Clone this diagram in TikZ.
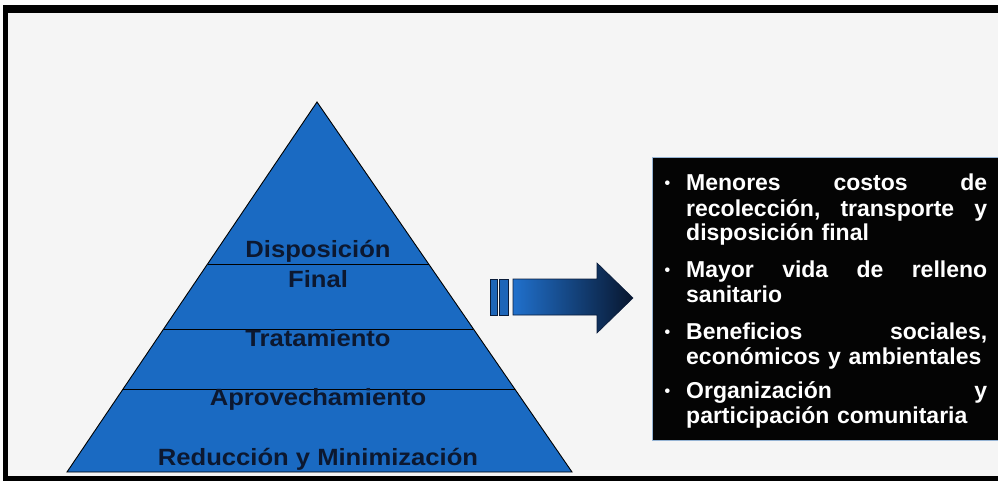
\documentclass[tikz,border=0pt]{standalone}
\usepackage{fontspec}
\setmainfont{Liberation Sans}
\newfontfamily\pyrfont[FakeStretch=1.09]{Liberation Sans}
\usetikzlibrary{calc}
\definecolor{pyrblue}{RGB}{26,106,194}
\definecolor{pyrtext}{RGB}{12,24,48}
\definecolor{bggray}{RGB}{245,245,245}
\definecolor{topwhite}{RGB}{252,252,252}
\definecolor{arrowleft}{RGB}{32,112,204}
\definecolor{arrowright}{RGB}{8,22,46}
\definecolor{arrowedge}{RGB}{10,28,58}
\definecolor{boxblack}{RGB}{4,4,4}
\definecolor{boxedge}{RGB}{150,180,212}
\newcommand\jline[1]{\leavevmode\hbox to 301pt{#1}}
\newcommand\bul{\leavevmode\llap{\raisebox{2pt}{\fontsize{16}{16}\selectfont •}\hspace{16pt}}}
\tikzset{
  pyrlabel/.style={text=pyrtext, font=\pyrfont\bfseries\fontsize{23.5}{29}\selectfont, inner sep=0pt, align=center},
  itemtext/.style={text=white, font=\bfseries\fontsize{23}{25}\selectfont, align=left, text width=301pt, inner sep=0pt},
  barstyle/.style={fill=arrowleft!90!black, draw=arrowedge, line width=0.6pt},
  blockarrow/.style={left color=arrowleft, right color=arrowright, draw=arrowedge, line width=0.6pt, line join=miter}
}
\begin{document}
\begin{tikzpicture}[x=1pt,y=-1pt]
\useasboundingbox (0,0) rectangle (998,481);
% background and frame
\fill[topwhite] (0,0) rectangle (998,481);
\fill[black] (3,5) rectangle (998,481);
\fill[bggray] (8,13) rectangle (998,476);
% pyramid
\coordinate (apex) at (317,102);
\coordinate (bl) at (67,472);
\coordinate (br) at (572,472);
\filldraw[fill=pyrblue, draw=black, line width=0.9pt, line join=miter] (apex) -- (bl) -- (br) -- cycle;
\foreach \t in {0.4378,0.6135,0.7757}{
  \draw[black, line width=0.9pt] ($(apex)!\t!(bl)$) -- ($(apex)!\t!(br)$);
}
\node[pyrlabel, anchor=base] (disp) at (318,257) {Disposición};
\node[pyrlabel, anchor=base] (final) at (318,287) {Final};
\node[pyrlabel, anchor=base] (trat) at (318,346) {Tratamiento};
\node[pyrlabel, anchor=base] (aprov) at (318,405) {Aprovechamiento};
\node[pyrlabel, anchor=base] (redu) at (318,465) {Reducción y Minimización};
% block arrow
\filldraw[barstyle] (490,279) rectangle (497,315);
\filldraw[barstyle] (499,279) rectangle (508,315);
\draw[blockarrow] (513,279) -- (597,279) -- (597,263) -- (633,298) -- (597,333) -- (597,315) -- (513,315) -- cycle;
% black box
\node[fill=boxblack, draw=boxedge, line width=0.8pt, minimum width=346pt, minimum height=283pt, anchor=north west, inner sep=0pt] (box) at (652,157) {};
\node[itemtext, anchor=base west] (i1) at (686,191) {\bul\jline{Menores\hfill costos\hfill de}\\\jline{recolección,\hfill transporte\hfill y}\\disposición final};
\node[itemtext, anchor=base west] (i2) at (686,277) {\bul\jline{Mayor\hfill vida\hfill de\hfill relleno}\\sanitario};
\node[itemtext, anchor=base west] (i3) at (686,339) {\bul\jline{Beneficios\hfill sociales,}\\económicos y ambientales};
\node[itemtext, anchor=base west] (i4) at (686,398) {\bul\jline{Organización\hfill y}\\participación comunitaria};
\end{tikzpicture}
\end{document}
